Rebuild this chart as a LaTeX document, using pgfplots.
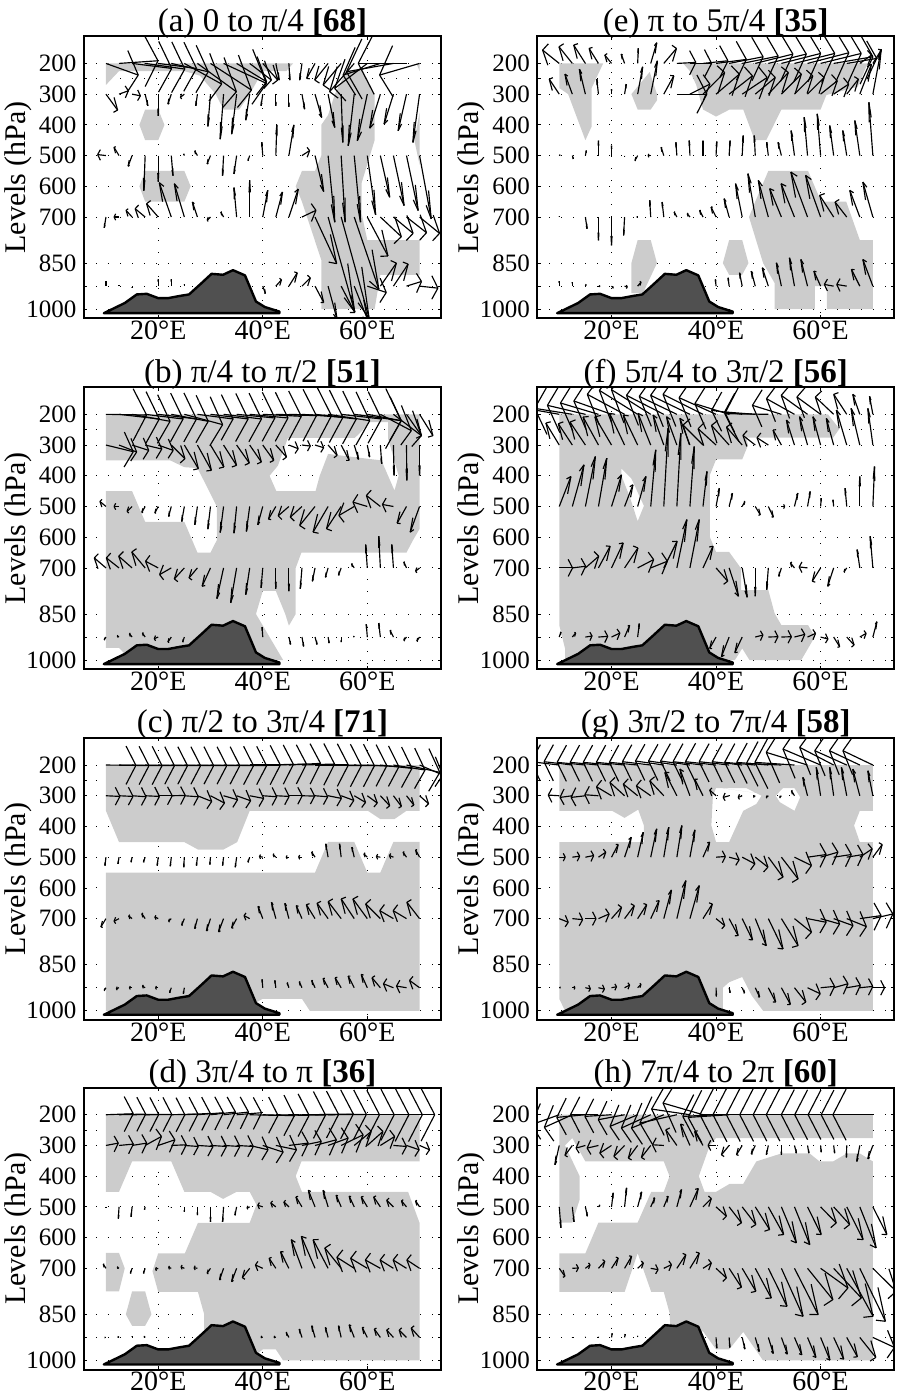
\documentclass[border=0pt]{standalone}
\usepackage{pgfplots}
\usepackage{pgfplotstable}
\usepackage{fontspec}
\setmainfont{Liberation Serif}
\pgfplotsset{compat=1.18}
\definecolor{pgray}{HTML}{CCCCCC}
\definecolor{mtn}{HTML}{505050}
% tables: lon, tip offset dx dy (screen units at 15.7 per degree, 0.9225 per hPa)
\pgfplotstableread[row sep=\\]{lon dx dy\\10 97 35\\12.5 117 -8\\15 119 15\\17.5 119 17\\20 115 15\\22.5 111 25\\25 112 62\\27.5 117 85\\30 123 80\\32.5 129 60\\35 90 55\\37.5 65 50\\40 45 50\\42.5 10 50\\45 3 50\\47.5 -7 50\\50 -25 45\\52.5 -40 50\\55 -54 65\\57.5 -74 85\\60 -98 75\\62.5 -112 35\\65 -141 25\\67.5 -145 0\\70 -120 35\\}\QaA
\pgfplotstableread[row sep=\\]{lon dx dy\\10 35 48\\12.5 28 -10\\15 25 5\\17.5 8 35\\20 0 65\\22.5 -10 30\\25 -12 10\\27.5 -5 35\\30 -8 97\\32.5 -10 135\\35 -15 120\\37.5 -12 78\\40 -5 35\\42.5 0 35\\45 0 38\\47.5 8 45\\50 20 70\\52.5 20 100\\55 5 145\\57.5 -18 155\\60 -30 140\\62.5 -32 102\\65 -28 90\\67.5 -25 110\\70 -20 145\\}\QaB
\pgfplotstableread[row sep=\\]{lon dx dy\\10 -25 -3\\12.5 -15 -25\\15 -12 32\\17.5 -4 105\\20 0 78\\22.5 5 60\\25 -2 -5\\27.5 -8 -14\\30 -10 25\\32.5 -3 60\\35 -8 55\\37.5 -5 15\\40 -3 -40\\42.5 3 -92\\45 15 -92\\47.5 23 -15\\50 26 108\\52.5 20 200\\55 12 200\\57.5 19 200\\60 25 178\\62.5 28 125\\65 32 150\\67.5 35 165\\70 35 190\\}\QaC
\pgfplotstableread[row sep=\\]{lon dx dy\\10 -5 32\\12.5 -15 0\\15 -18 -20\\17.5 -30 -25\\20 -35 -40\\22.5 -36 -103\\25 -30 -100\\27.5 -15 -45\\30 -10 10\\32.5 -8 -15\\35 -8 -88\\37.5 0 -110\\40 15 -80\\42.5 20 -75\\45 28 -84\\47.5 42 -20\\50 65 140\\52.5 80 285\\55 84 304\\57.5 74 217\\60 62 117\\62.5 63 59\\65 59 49\\67.5 60 47\\70 60 49\\}\QaD
\pgfplotstableread[row sep=\\]{lon dx dy\\10 0 -15\\12.5 0 -3\\15 0 5\\17.5 0 0\\20 0 -20\\22.5 0 -20\\25 0 -5\\27.5 0 0\\30 0 0\\32.5 0 0\\35 0 0\\37.5 0 0\\40 8 22\\42.5 17 -19\\45 25 -40\\47.5 25 -25\\50 26 49\\52.5 27 100\\55 41 79\\57.5 40 100\\60 57 19\\62.5 48 -69\\65 44 -66\\67.5 45 -14\\70 55 6\\}\QaE
\pgfplotstableread[row sep=\\]{lon dx dy\\10 122 2\\12.5 121 14\\15 114 21\\17.5 114 14\\20 115 14\\22.5 111 21\\25 115 31\\27.5 107 14\\30 113 14\\32.5 114 14\\35 115 11\\37.5 115 11\\40 116 6\\42.5 122 4\\45 128 4\\47.5 123 9\\50 124 14\\52.5 125 19\\55 121 14\\57.5 141 19\\60 102 19\\62.5 93 49\\65 84 64\\67.5 45 64\\70 40 64\\}\QbA
\pgfplotstableread[row sep=\\]{lon dx dy\\10 82 20\\12.5 53 21\\15 50 16\\17.5 50 12\\20 45 16\\22.5 41 41\\25 42 71\\27.5 42 76\\30 40 66\\32.5 39 61\\35 38 54\\37.5 35 51\\40 33 46\\42.5 32 36\\45 28 11\\47.5 25 3\\50 26 8\\52.5 27 31\\55 24 46\\57.5 13 43\\60 7 36\\62.5 4 56\\65 2 91\\67.5 1 106\\70 0 91\\}\QbB
\pgfplotstableread[row sep=\\]{lon dx dy\\10 -18 -15\\12.5 -15 0\\15 -15 15\\17.5 -10 18\\20 -10 20\\22.5 -8 30\\25 -8 45\\27.5 -8 55\\30 -8 68\\32.5 -10 78\\35 -8 80\\37.5 -10 75\\40 -15 55\\42.5 -22 38\\45 -32 28\\47.5 -35 32\\50 -46 57\\52.5 -45 77\\55 -44 67\\57.5 -46 27\\60 -43 -13\\62.5 -42 -33\\65 -33 -6\\67.5 -28 50\\70 -28 77\\}\QbC
\pgfplotstableread[row sep=\\]{lon dx dy\\10 -35 -30\\12.5 -38 -30\\15 -40 -35\\17.5 -40 -48\\20 -38 -20\\22.5 -35 20\\25 -30 33\\27.5 -25 30\\30 -25 55\\32.5 -20 92\\35 -18 105\\37.5 -12 80\\40 -5 60\\42.5 0 62\\45 0 70\\47.5 -5 62\\50 -8 40\\52.5 -8 28\\55 -8 22\\57.5 -8 -12\\60 -5 -70\\62.5 -5 -95\\65 -5 -70\\67.5 -8 -18\\70 -12 10\\}\QbD
\pgfplotstableread[row sep=\\]{lon dx dy\\10 -5 8\\12.5 -5 -3\\15 -8 -10\\17.5 -8 -12\\20 -12 5\\22.5 -10 15\\25 -5 15\\27.5 0 0\\30 0 0\\32.5 0 0\\35 0 0\\37.5 0 0\\40 -2 -30\\42.5 0 0\\45 5 22\\47.5 5 28\\50 6 22\\52.5 3 18\\55 0 15\\57.5 -2 -2\\60 -3 -38\\62.5 -5 -42\\65 -10 -20\\67.5 -8 10\\70 -8 12\\}\QbE
\pgfplotstableread[row sep=\\]{lon dx dy\\10 90 1\\12.5 90 2\\15 90 2\\17.5 88 2\\20 88 2\\22.5 88 2\\25 88 2\\27.5 88 2\\30 88 2\\32.5 90 2\\35 90 2\\37.5 92 0\\40 92 -2\\42.5 92 -3\\45 95 -5\\47.5 98 -3\\50 100 0\\52.5 100 2\\55 100 2\\57.5 98 2\\60 95 5\\62.5 95 10\\65 95 15\\67.5 100 22\\70 70 30\\}\QcA
\pgfplotstableread[row sep=\\]{lon dx dy\\10 42 2\\12.5 42 2\\15 42 3\\17.5 43 2\\20 42 0\\22.5 42 -1\\25 42 3\\27.5 43 17\\30 42 22\\32.5 42 12\\35 42 15\\37.5 42 8\\40 42 3\\42.5 40 2\\45 40 0\\47.5 38 1\\50 38 3\\52.5 40 8\\55 38 14\\57.5 34 20\\60 30 22\\62.5 28 30\\65 24 32\\67.5 22 28\\70 27 24\\}\QcB
\pgfplotstableread[row sep=\\]{lon dx dy\\10 -3 25\\12.5 -3 20\\15 -3 15\\17.5 -5 15\\20 -3 25\\22.5 -3 27\\25 -2 30\\27.5 -3 25\\30 -2 22\\32.5 -3 25\\35 -4 30\\37.5 -5 15\\40 -10 -2\\42.5 -8 -8\\45 -8 0\\47.5 -10 0\\50 -10 -15\\52.5 -7 -40\\55 -5 -40\\57.5 -7 -30\\60 -10 -10\\62.5 -12 -2\\65 -12 -5\\67.5 -10 -15\\70 -12 -22\\}\QcC
\pgfplotstableread[row sep=\\]{lon dx dy\\10 -15 25\\12.5 -15 8\\15 -10 -8\\17.5 -10 -15\\20 -10 -5\\22.5 -8 8\\25 -8 20\\27.5 -8 30\\30 -12 37\\32.5 -15 40\\35 -15 28\\37.5 -17 -9\\40 -14 -37\\42.5 -13 -49\\45 -12 -46\\47.5 -17 -39\\50 -26 -42\\52.5 -33 -46\\55 -39 -51\\57.5 -39 -59\\60 -43 -59\\62.5 -44 -44\\65 -41 -24\\67.5 -40 -24\\70 -38 -49\\}\QcD
\pgfplotstableread[row sep=\\]{lon dx dy\\10 -5 8\\12.5 -8 3\\15 -8 0\\17.5 -8 -5\\20 -8 0\\22.5 -5 15\\25 -3 18\\27.5 0 0\\30 0 0\\32.5 0 0\\35 0 0\\37.5 0 0\\40 -2 -25\\42.5 -3 -22\\45 -5 -15\\47.5 -8 -18\\50 -10 -22\\52.5 -15 -28\\55 -18 -30\\57.5 -18 -35\\60 -18 -40\\62.5 -25 -30\\65 -30 -12\\67.5 -30 -5\\70 -30 -22\\}\QcE
\pgfplotstableread[row sep=\\]{lon dx dy\\10 82 -3\\12.5 80 -2\\15 80 -1\\17.5 80 -1\\20 80 0\\22.5 80 -2\\25 78 -4\\27.5 78 -6\\30 75 -8\\32.5 75 -8\\35 75 -6\\37.5 85 2\\40 95 3\\42.5 100 2\\45 110 1\\47.5 110 -1\\50 115 -2\\52.5 115 -1\\55 115 0\\57.5 120 0\\60 125 0\\62.5 126 0\\65 124 0\\67.5 0 0\\70 0 0\\}\QdA
\pgfplotstableread[row sep=\\]{lon dx dy\\10 37 -7\\12.5 43 -4\\15 44 -7\\17.5 49 -27\\20 50 -17\\22.5 45 -2\\25 42 3\\27.5 47 3\\30 48 3\\32.5 49 3\\35 50 3\\37.5 55 13\\40 61 20\\42.5 62 13\\45 58 -7\\47.5 58 -12\\50 64 -17\\52.5 60 -22\\55 66 -32\\57.5 51 -42\\60 47 -42\\62.5 43 -27\\65 39 3\\67.5 38 13\\70 30 13\\}\QdB
\pgfplotstableread[row sep=\\]{lon dx dy\\10 0 2\\12.5 -2 35\\15 -3 30\\17.5 -2 8\\20 0 0\\22.5 0 2\\25 0 15\\27.5 0 25\\30 0 45\\32.5 -3 45\\35 -5 25\\37.5 -8 3\\40 -15 -5\\42.5 -15 -12\\45 -15 -15\\47.5 -18 -30\\50 -20 -50\\52.5 -15 -50\\55 -15 -35\\57.5 -15 -32\\60 -18 -30\\62.5 -20 -30\\65 -20 -20\\67.5 -15 -18\\70 -12 -18\\}\QdC
\pgfplotstableread[row sep=\\]{lon dx dy\\10 -8 -12\\12.5 -5 -3\\15 -5 15\\17.5 -5 15\\20 -8 3\\22.5 -8 -3\\25 -10 -5\\27.5 -10 -2\\30 -10 15\\32.5 -12 35\\35 -15 40\\37.5 -22 28\\40 -22 -10\\42.5 -20 -30\\45 -25 -50\\47.5 -32 -86\\50 -41 -96\\52.5 -45 -86\\55 -49 -61\\57.5 -52 -33\\60 -50 -30\\62.5 -45 -25\\65 -40 -25\\67.5 -40 -25\\70 -38 -25\\}\QdD
\pgfplotstableread[row sep=\\]{lon dx dy\\10 -3 0\\12.5 -3 -2\\15 0 -3\\17.5 -3 -3\\20 0 0\\22.5 0 0\\25 0 -2\\27.5 0 0\\30 0 0\\32.5 0 0\\35 0 0\\37.5 0 0\\40 -5 -2\\42.5 -5 -2\\45 -8 -15\\47.5 -8 -25\\50 -10 -35\\52.5 -8 -30\\55 -8 -35\\57.5 -15 -38\\60 -15 -30\\62.5 -18 -25\\65 -20 -22\\67.5 -22 -22\\70 -25 -28\\}\QdE
\pgfplotstableread[row sep=\\]{lon dx dy\\10 -50 -40\\12.5 -40 -50\\15 -35 -55\\17.5 -28 -45\\20 -20 -25\\22.5 -10 -28\\25 2 -45\\27.5 18 -62\\30 38 -45\\32.5 57 -3\\35 65 0\\37.5 75 -8\\40 91 -12\\42.5 102 -20\\45 108 -22\\47.5 113 -28\\50 114 -28\\52.5 118 -30\\55 121 -30\\57.5 124 -32\\60 122 -30\\62.5 118 -20\\65 90 -15\\67.5 35 -25\\70 25 -40\\}\QeA
\pgfplotstableread[row sep=\\]{lon dx dy\\10 -30 -45\\12.5 -22 -60\\15 -18 -75\\17.5 -5 -45\\20 0 -15\\22.5 5 -30\\25 15 -82\\27.5 20 -100\\30 30 -55\\32.5 90 0\\35 60 -30\\37.5 65 -65\\40 70 -60\\42.5 70 -55\\45 75 -50\\47.5 60 -50\\50 60 -65\\52.5 60 -60\\55 55 -55\\57.5 50 -50\\60 50 -40\\62.5 45 -30\\65 35 -45\\67.5 35 -90\\70 25 -135\\}\QeB
\pgfplotstableread[row sep=\\]{lon dx dy\\10 2 -2\\12.5 3 10\\15 3 -15\\17.5 0 -45\\20 0 -30\\22.5 0 2\\25 -8 15\\27.5 -8 0\\30 -8 -25\\32.5 -3 -40\\35 -2 -45\\37.5 0 -45\\40 2 -42\\42.5 3 -45\\45 3 -60\\47.5 -3 -60\\50 -5 -40\\52.5 -10 -40\\55 -10 -75\\57.5 -10 -115\\60 -10 -125\\62.5 -12 -90\\65 -12 -75\\67.5 -15 -105\\70 -12 -160\\}\QeC
\pgfplotstableread[row sep=\\]{lon dx dy\\10 0 -2\\12.5 0 0\\15 5 35\\17.5 0 70\\20 0 85\\22.5 -3 55\\25 -2 0\\27.5 -3 -50\\30 -5 -45\\32.5 -8 -15\\35 -8 -10\\37.5 -10 -20\\40 -15 -30\\42.5 -15 -55\\45 -20 -100\\47.5 -22 -130\\50 -30 -110\\52.5 -35 -85\\55 -40 -100\\57.5 -50 -135\\60 -45 -125\\62.5 -42 -65\\65 -35 -45\\67.5 -30 -80\\70 -30 -105\\}\QeD
\pgfplotstableread[row sep=\\]{lon dx dy\\10 0 -15\\12.5 0 -12\\15 2 -5\\17.5 4 0\\20 5 5\\22.5 8 3\\25 10 -12\\27.5 0 0\\30 0 0\\32.5 0 0\\35 0 0\\37.5 0 0\\40 -2 -20\\42.5 -3 -25\\45 -8 -40\\47.5 -12 -45\\50 -18 -55\\52.5 -15 -70\\55 -15 -85\\57.5 -20 -80\\60 -20 -45\\62.5 -28 -5\\65 -30 -5\\67.5 -25 -50\\70 -30 -80\\}\QeE
\pgfplotstableread[row sep=\\]{lon dx dy\\10 -113 -20\\12.5 -113 -18\\15 -114 -27\\17.5 -114 -34\\20 -113 -40\\22.5 -112 -60\\25 -115 -72\\27.5 -118 -74\\30 -112 -57\\32.5 -113 -54\\35 -118 -57\\37.5 -120 -60\\40 -111 -50\\42.5 -103 -32\\45 -92 -12\\47.5 -92 -7\\50 -131 -2\\52.5 -87 -27\\55 -84 -47\\57.5 -79 -57\\60 -71 -52\\62.5 -55 -52\\65 -39 -60\\67.5 -21 -60\\70 -10 -54\\}\QfA
\pgfplotstableread[row sep=\\]{lon dx dy\\10 -40 -66\\12.5 -42 -64\\15 -46 -69\\17.5 -46 -84\\20 -50 -85\\22.5 -45 -95\\25 -43 -90\\27.5 -38 -95\\30 -32 -90\\32.5 -31 -85\\35 -30 -80\\37.5 -60 -60\\40 -54 -49\\42.5 -53 -59\\45 -47 -54\\47.5 -37 -29\\50 -34 -22\\52.5 -25 -45\\55 -24 -75\\57.5 -24 -85\\60 -23 -85\\62.5 -22 -80\\65 -31 -105\\67.5 -26 -110\\70 -15 -110\\}\QfB
\pgfplotstableread[row sep=\\]{lon dx dy\\10 35 -90\\12.5 35 -125\\15 30 -150\\17.5 25 -145\\20 30 -95\\22.5 25 -65\\25 25 -90\\27.5 15 -170\\30 13 -235\\32.5 12 -220\\35 13 -180\\37.5 12 -105\\40 10 -55\\42.5 10 -40\\45 8 -15\\47.5 15 25\\50 15 32\\52.5 10 0\\55 10 -40\\57.5 8 -45\\60 2 -25\\62.5 -2 -20\\65 -5 -55\\67.5 0 -90\\70 5 -120\\}\QfC
\pgfplotstableread[row sep=\\]{lon dx dy\\10 40 0\\12.5 40 -5\\15 40 -35\\17.5 35 -65\\20 35 -75\\22.5 40 -60\\25 48 -25\\27.5 50 -20\\30 40 -80\\32.5 30 -145\\35 28 -145\\37.5 30 -65\\40 35 40\\42.5 28 85\\45 15 88\\47.5 0 85\\50 -5 65\\52.5 -8 25\\55 -12 -15\\57.5 -25 -3\\60 -25 40\\62.5 -18 55\\65 -8 12\\67.5 -8 -55\\70 -8 -95\\}\QfD
\pgfplotstableread[row sep=\\]{lon dx dy\\10 5 -15\\12.5 10 -12\\15 20 -3\\17.5 28 -2\\20 25 -12\\22.5 15 -35\\25 5 -40\\27.5 0 0\\30 0 0\\32.5 0 0\\35 0 0\\37.5 0 0\\40 -19 34\\42.5 -23 59\\45 -22 47\\47.5 23 -6\\50 29 -1\\52.5 30 -1\\55 31 -8\\57.5 24 -11\\60 22 6\\62.5 18 29\\65 22 24\\67.5 19 -11\\70 12 -46\\}\QfE
\pgfplotstableread[row sep=\\]{lon dx dy\\10 -85 -10\\12.5 -85 -10\\15 -85 -8\\17.5 -85 -8\\20 -85 -8\\22.5 -85 -8\\25 -85 -8\\27.5 -85 -10\\30 -85 -12\\32.5 -85 -12\\35 -88 -12\\37.5 -90 -10\\40 -92 -10\\42.5 -90 -10\\45 -90 -10\\47.5 -92 -8\\50 -95 -8\\52.5 -105 -5\\55 -119 -8\\57.5 -124 -38\\60 -113 -48\\62.5 -102 -53\\65 -96 -43\\67.5 -91 -43\\70 -90 -43\\}\QgA
\pgfplotstableread[row sep=\\]{lon dx dy\\10 -33 -2\\12.5 -37 5\\15 -43 5\\17.5 -41 -3\\20 -45 -27\\22.5 -44 -40\\25 -43 -35\\27.5 -43 -30\\30 -42 -45\\32.5 -36 -70\\35 -30 -80\\37.5 -25 -50\\40 -19 -17\\42.5 -18 5\\45 -12 5\\47.5 -5 3\\50 -6 5\\52.5 -5 5\\55 -9 -15\\57.5 -14 -55\\60 -13 -85\\62.5 -12 -85\\65 -16 -85\\67.5 -21 -80\\70 -15 -75\\}\QgB
\pgfplotstableread[row sep=\\]{lon dx dy\\10 18 0\\12.5 22 -3\\15 25 -5\\17.5 22 -15\\20 20 -38\\22.5 20 -60\\25 17 -75\\27.5 18 -85\\30 15 -90\\32.5 15 -95\\35 15 -82\\37.5 20 -45\\40 28 -2\\42.5 30 8\\45 38 20\\47.5 38 30\\50 44 60\\52.5 50 65\\55 51 25\\57.5 56 -8\\60 52 -15\\62.5 53 -8\\65 49 -8\\67.5 37 -25\\70 28 -38\\}\QgC
\pgfplotstableread[row sep=\\]{lon dx dy\\10 27 11\\12.5 31 3\\15 32 0\\17.5 32 -14\\20 30 -34\\22.5 29 -39\\25 27 -42\\27.5 25 -54\\30 23 -86\\32.5 27 -114\\35 28 -99\\37.5 28 -44\\40 26 21\\42.5 27 51\\45 31 64\\47.5 33 81\\50 44 91\\52.5 50 81\\55 51 41\\57.5 56 11\\60 57 16\\62.5 58 21\\65 59 24\\67.5 64 -9\\70 60 -14\\}\QgD
\pgfplotstableread[row sep=\\]{lon dx dy\\10 3 -1\\12.5 8 0\\15 15 3\\17.5 18 4\\20 15 -3\\22.5 15 -8\\25 10 -10\\27.5 0 0\\30 0 0\\32.5 0 0\\35 0 0\\37.5 0 0\\40 1 26\\42.5 3 15\\45 7 16\\47.5 13 28\\50 22 43\\52.5 27 50\\55 34 43\\57.5 38 18\\60 42 -4\\62.5 43 -12\\65 41 -7\\67.5 39 -4\\70 35 0\\}\QgE
\pgfplotstableread[row sep=\\]{lon dx dy\\10 -84 30\\12.5 -84 38\\15 -86 8\\17.5 -84 0\\20 -80 5\\22.5 -79 15\\25 -83 35\\27.5 -88 40\\30 -97 40\\32.5 -111 25\\35 -115 -17\\37.5 -120 -35\\40 -100 5\\42.5 -123 8\\45 -127 0\\47.5 -127 0\\50 -126 0\\52.5 -125 0\\55 -124 0\\57.5 -124 0\\60 -118 0\\62.5 -117 0\\65 -116 0\\67.5 -116 0\\70 -120 0\\}\QhA
\pgfplotstableread[row sep=\\]{lon dx dy\\10 -13 58\\12.5 -22 30\\15 -28 8\\17.5 -34 8\\20 -35 23\\22.5 -32 33\\25 -28 38\\27.5 -28 36\\30 -34 -2\\32.5 -33 -47\\35 -28 -64\\37.5 -25 -42\\40 -24 0\\42.5 -23 28\\45 -17 28\\47.5 -12 26\\50 -6 28\\52.5 0 28\\55 6 23\\57.5 4 23\\60 2 20\\62.5 3 23\\65 -1 36\\67.5 -9 48\\70 -15 40\\}\QhB
\pgfplotstableread[row sep=\\]{lon dx dy\\10 5 63\\12.5 5 45\\15 6 28\\17.5 4 -5\\20 5 -42\\22.5 6 -57\\25 12 -45\\27.5 12 -27\\30 13 -32\\32.5 14 -52\\35 25 -55\\37.5 25 -25\\40 31 28\\42.5 37 48\\45 41 53\\47.5 43 68\\50 46 83\\52.5 45 108\\55 46 113\\57.5 41 83\\60 47 48\\62.5 48 53\\65 49 98\\67.5 49 123\\70 42 83\\}\QhC
\pgfplotstableread[row sep=\\]{lon dx dy\\10 17 24\\12.5 18 -1\\15 14 -11\\17.5 19 -21\\20 20 -31\\22.5 21 -36\\25 17 -16\\27.5 22 4\\30 23 -11\\32.5 27 -41\\35 28 -46\\37.5 25 -16\\40 31 29\\42.5 37 57\\45 41 69\\47.5 48 89\\50 56 114\\52.5 65 144\\55 71 139\\57.5 76 94\\60 82 59\\62.5 83 89\\65 79 144\\67.5 77 159\\70 70 69\\}\QhD
\pgfplotstableread[row sep=\\]{lon dx dy\\10 0 0\\12.5 0 -1\\15 0 -2\\17.5 0 -2\\20 2 -12\\22.5 2 -10\\25 0 -5\\27.5 0 0\\30 0 0\\32.5 0 0\\35 0 0\\37.5 0 0\\40 2 32\\42.5 2 30\\45 8 35\\47.5 12 42\\50 15 48\\52.5 18 50\\55 22 52\\57.5 25 60\\60 28 68\\62.5 30 65\\65 32 58\\67.5 48 60\\70 65 30\\}\QhE
% quiver arrow with MATLAB-style head (axis units: degrees and 100 hPa)
\pgfplotsset{qline/.style={black,line width=1.15pt,line join=miter}}
\newcommand\qv[2]{%
\addplot[qline,quiver={u=\thisrow{dx}/15.7,v=\thisrow{dy}/0.9225}] table[x=lon,y expr=#2] {#1};
\addplot[qline,quiver={u=-0.33*(\thisrow{dx}+0.0561*\thisrow{dy})/15.7,v=-0.33*(\thisrow{dy}-1.939*\thisrow{dx})/0.9225}] table[x expr=\thisrow{lon}+\thisrow{dx}/15.7,y expr=#2+\thisrow{dy}/0.9225] {#1};
\addplot[qline,quiver={u=-0.33*(\thisrow{dx}-0.0561*\thisrow{dy})/15.7,v=-0.33*(\thisrow{dy}+1.939*\thisrow{dx})/0.9225}] table[x expr=\thisrow{lon}+\thisrow{dx}/15.7,y expr=#2+\thisrow{dy}/0.9225] {#1};
}
\newcommand\allq[5]{\qv{#1}{200}\qv{#2}{300}\qv{#3}{500}\qv{#4}{700}\qv{#5}{925}}
\newcommand\terrain{\addplot[fill=mtn,draw=black,line width=2.4pt,line join=round] coordinates {(9.6,1013)(13.6,980)(15.9,952)(17.8,950)(20,964)(21.9,964)(24.1,957)(25.9,952)(28.3,915)(30.2,885)(32.4,888)(34.3,873)(36.6,890)(38.7,975)(40.4,993)(43.2,1008)(43.2,1013)} -- cycle;}
\pgfplotsset{gp/.style={fill=pgray,draw=none,even odd rule},
pan/.style={scale only axis,width=357pt,height=282pt,anchor=south west,
 xmin=5.8,xmax=74.1,ymin=112,ymax=1030,y dir=reverse,
 xtick={20,40,60},xticklabels={20°E,40°E,60°E},
 ytick={200,250,300,400,500,600,700,850,925,1000},
 yticklabels={200,,300,400,500,600,700,850,,1000},
 tick align=inside,major tick length=3.5pt,
 tick style={black,line width=0.8pt},
 axis line style={line width=2pt},
 xmajorgrids,ymajorgrids,
 grid style={black,line width=1pt,dash pattern=on 1pt off 11pt},
 xticklabel style={font=\fontsize{28}{28}\selectfont,yshift=1pt},
 yticklabel style={font=\fontsize{25}{25}\selectfont,xshift=-4pt},
 ylabel={Levels (hPa)},
 ylabel style={at={(axis description cs:0,0.5)},anchor=center,yshift=66pt,font=\fontsize{30}{30}\selectfont},
 title style={at={(0.5,1)},anchor=base,yshift=-1pt,inner sep=0pt,font=\fontsize{33}{33}\selectfont},
}}
\begin{document}
\begin{tikzpicture}
\path[use as bounding box] (0,0) rectangle (897pt,1398pt);
% (a)
\begin{axis}[pan,at={(84pt,1079.6pt)},title={(a) 0 to π/4 {\bfseries [68]}}]
\addplot[gp] coordinates {(10,200)(45.8,200)(44.5,225)(40,225)(37.5,300)(35.5,350)(32.5,350)(31,300)(28,240)(25,225)(20,225)(12.5,225)(10,270)} -- cycle;
\addplot[gp] coordinates {(16.4,400)(17.5,350)(20,350)(21.2,400)(20,450)(17.5,450)} -- cycle;
\addplot[gp] coordinates {(16.4,600)(17.5,550)(25,550)(26.2,600)(25,650)(17.5,650)} -- cycle;
\addplot[gp] coordinates {(56,225)(59.2,225)(61.4,300)(61.4,450)(58.9,590)(58.9,688)(60,775)(70,775)(70,888)(62.5,888)(61.4,1000)(54.7,1000)(51.2,1000)(51.2,840)(47.5,650)(46.3,600)(47.5,550)(50,550)(51.2,500)(51.2,400)(52.5,368)(53.8,300)} -- cycle;
\addplot[gp] coordinates {(69.4,200)(70,200)(70,225)} -- cycle;
\addplot[gp] coordinates {(69,450)(70,360)(70,530)} -- cycle;
\allq{\QaA}{\QaB}{\QaC}{\QaD}{\QaE}
\terrain
\end{axis}
% (b)
\begin{axis}[pan,at={(84pt,728.7pt)},title={(b) π/4 to π/2 {\bfseries [51]}}]
\addplot[gp] coordinates {(10,200)(70,200)(70,573)(68.7,611)(67.5,650)(47.4,650)(46.3,700)(46.3,850)(45,888)(44.3,850)(42.5,775)(40,775)(38.7,850)(43.9,1000)(16,1000)(13.6,980)(12.5,960)(10,960)(10,450)(15,450)(17.5,550)(25,550)(27.5,650)(30,650)(31.2,610)(31.2,500)(29,425)(27.5,375)(25,372)(22.3,350)(10,350)(10,200)
(44.8,277)(57.6,277)(59.2,250)(60.4,225)(64,225)(64,280)(66,400)(65.2,448)(62.7,350)(52.5,329)(50.9,400)(50.1,450)(42.6,450)(41.3,400)(42.9,367)(44.8,277)(10,200)} -- cycle;
\allq{\QbA}{\QbB}{\QbC}{\QbD}{\QbE}
\terrain
\end{axis}
% (c)
\begin{axis}[pan,at={(84pt,378pt)},title={(c) π/2 to 3π/4 {\bfseries [71]}}]
\addplot[gp] coordinates {(10,200)(70,200)(70,349)(67.5,349)(65.2,376)(62.5,376)(60.1,349)(37.5,349)(35.1,451)(32.5,475)(27.6,475)(25,451)(12.5,451)(10,349)} -- cycle;
\addplot[gp] coordinates {(10,550)(50,550)(52.5,450)(57.5,450)(60,550)(62.5,550)(65,450)(70,450)(70,1000)(49,1000)(47.5,961)(40,961)(38.5,975)(38,1000)(10,1000)} -- cycle;
\allq{\QcA}{\QcB}{\QcC}{\QcD}{\QcE}
\terrain
\end{axis}
% (d)
\begin{axis}[pan,at={(84pt,28.3pt)},title={(d) 3π/4 to π {\bfseries [36]}}]
\addplot[gp] coordinates {(10,200)(70,200)(70,352)(47.4,352)(46.3,400)(47.5,451)(67.8,451)(70,552)(70,1000)(43.9,1000)(42.5,964)(40,964)(38.8,980)(34.3,959)(28.8,905)(28.8,850)(27.6,777)(20,777)(18.9,709)(20,651)(25.1,651)(27.6,552)(37.5,552)(38.8,493)(37.5,451)(35,451)(32.4,474)(30,451)(25,451)(22.5,352)(15,352)(12.5,451)(10,451)} -- cycle;
\addplot[gp] coordinates {(10,650)(12.5,650)(13.6,700)(12.5,775)(10,775)} -- cycle;
\addplot[gp] coordinates {(15,775)(17.5,775)(18.7,850)(17.5,887)(15,887)(13.8,850)} -- cycle;
\allq{\QdA}{\QdB}{\QdC}{\QdD}{\QdE}
\terrain
\end{axis}
% (e)
\begin{axis}[pan,at={(537.3pt,1079.6pt)},title={(e) π to 5π/4 {\bfseries [35]}}]
\addplot[gp] coordinates {(10,200)(18.4,200)(16.2,280)(16.2,405)(15,450)(11.7,300)(10,280)} -- cycle;
\addplot[gp] coordinates {(23.8,300)(27.3,228)(28.7,300)(28.7,320)(27.5,350)(25,350)} -- cycle;
\addplot[gp] coordinates {(33.7,200)(69,200)(67.1,276)(61.1,303)(60,350)(52.5,350)(49.6,450)(47.4,450)(45.2,350)(42.6,350)(40,373)(37.5,350)(36.2,270)(35,225)} -- cycle;
\addplot[gp] coordinates {(50,550)(57.6,550)(60.1,650)(64.9,650)(67.5,775)(70,775)(70,1000)(61.2,1000)(61.2,925)(58.9,925)(58.9,1000)(51.2,1000)(51.2,915)(49,850)(46.3,700)(47.5,650)} -- cycle;
\addplot[gp] coordinates {(25,775)(27.5,775)(28.7,850)(26,948)(23.8,948)(23.8,850)} -- cycle;
\addplot[gp] coordinates {(42.5,775)(45,775)(46.2,850)(45,888)(42.5,888)(41.3,850)} -- cycle;
\allq{\QeA}{\QeB}{\QeC}{\QeD}{\QeE}
\terrain
\end{axis}
% (f)
\begin{axis}[pan,at={(537.3pt,728.7pt)},title={(f) 5π/4 to 3π/2 {\bfseries [56]}}]
\addplot[gp] coordinates {(10,200)(61.4,200)(63.6,247)(62.4,276)(45.8,276)(46.1,301)(45,347)(40,347)(38.8,398)(38.8,599)(40,648)(42.5,648)(44.8,702)(44.8,772)(50,772)(51.2,848)(52.5,886)(57.6,886)(58.9,924)(56.3,1000)(46.4,1000)(45,962)(43.6,1000)(11.1,1000)(11.1,962)(10,886)(10,200)
(21.9,377)(23.8,409)(26.2,498)(25,548)(23.5,469)(21.9,400)(21.9,377)(10,200)} -- cycle;
\allq{\QfA}{\QfB}{\QfC}{\QfD}{\QfE}
\terrain
\end{axis}
% (g)
\begin{axis}[pan,at={(537.3pt,378pt)},title={(g) 3π/2 to 7π/4 {\bfseries [58]}}]
\addplot[gp] coordinates {(10,200)(70,200)(70,349)(67.5,349)(66.4,397)(67.5,451)(70,451)(70,1000)(49,1000)(46.8,950)(45,890)(42.5,907)(41.3,925)(41.3,1000)(11.1,1000)(10,961)(10,451)(26.2,451)(26.2,397)(25.1,345)(22.5,372)(20.1,349)(10,349)(10,200)
(39.4,300)(40,275)(45.8,275)(48.7,300)(47.7,327)(45.2,349)(42.5,451)(40,451)(39.1,397)(39.4,300)(10,200)
(51.4,300)(52.8,275)(55,275)(56.1,305)(55,349)(52.2,321)(51.4,300)(10,200)} -- cycle;
\allq{\QgA}{\QgB}{\QgC}{\QgD}{\QgE}
\terrain
\end{axis}
% (h)
\begin{axis}[pan,at={(537.3pt,28.3pt)},title={(h) 7π/4 to 2π {\bfseries [60]}}]
\addplot[gp] coordinates {(10,200)(70,200)(70,276)(40,276)(38.8,300)(36.7,400)(37.8,451)(40,451)(42.6,425)(45.2,425)(47.7,352)(52.5,326)(57.9,326)(59.8,352)(62.4,352)(65,326)(67.5,326)(70,352)(70,1000)(49,1000)(45.2,907)(42.5,964)(40,964)(37.5,905)(31.3,905)(31.1,845)(30,777)(27.6,777)(25,651)(22.5,777)(10,777)(10,651)(15,651)(17.5,551)(25,551)(27.6,451)(30,451)(31.1,400)(30,352)(15,352)(12.5,276)(11.1,300)(13.9,400)(13.9,476)(12.5,551)(10,551)} -- cycle;
\allq{\QhA}{\QhB}{\QhC}{\QhD}{\QhE}
\terrain
\end{axis}
\end{tikzpicture}
\end{document}
